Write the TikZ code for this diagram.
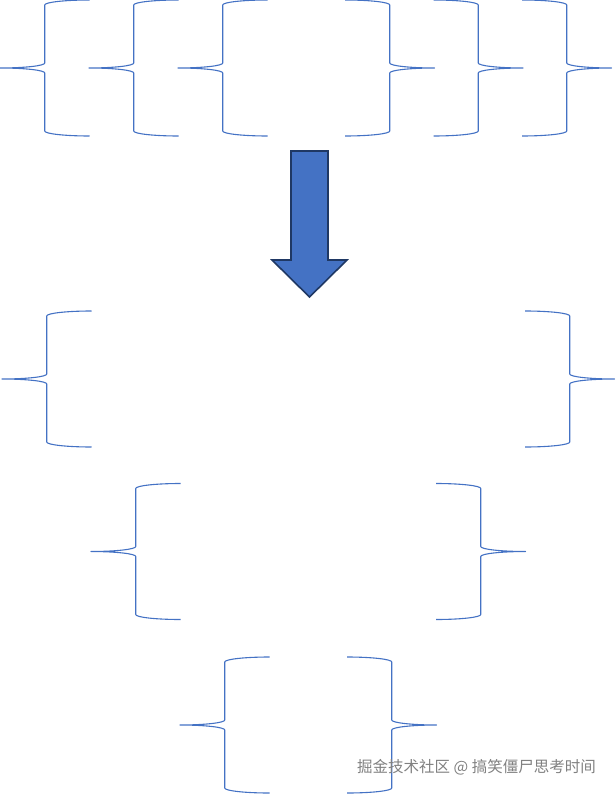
\documentclass[tikz,border=0pt]{standalone}
\usepackage{fontspec}
\newfontfamily\cjk{Noto Sans CJK SC}
\definecolor{braceblue}{HTML}{4472C4}
\definecolor{arrowfill}{HTML}{4472C4}
\definecolor{arrowline}{HTML}{1F3864}
\definecolor{markgray}{HTML}{808080}
\tikzset{
  bracestyle/.style={draw=braceblue, line width=1.1pt, line join=round},
  lbr/.pic={
    \path[bracestyle] (89.5,0)
      arc[start angle=270, end angle=180, x radius=44.75, y radius=5]
      -- (44.75,63)
      arc[start angle=0, end angle=90, x radius=44.75, y radius=5]
      arc[start angle=-90, end angle=0, x radius=44.75, y radius=5]
      -- (44.75,131)
      arc[start angle=180, end angle=90, x radius=44.75, y radius=5];
  },
  arrowstyle/.style={fill=arrowfill, draw=arrowline, line width=1.6pt, line join=miter},
  markstyle/.style={font=\cjk\fontsize{15.5}{18}\selectfont, text=markgray, inner sep=0pt, anchor=west}
}
\begin{document}
\begin{tikzpicture}[x=1pt, y=-1pt]
\useasboundingbox (0,0) rectangle (615,794);
% row 1
\pic at (0,0) {lbr};
\pic at (89,0) {lbr};
\pic at (178,0) {lbr};
\pic[xscale=-1] at (434.5,0) {lbr};
\pic[xscale=-1] at (523,0) {lbr};
\pic[xscale=-1] at (611.5,0) {lbr};
% arrow
\path[arrowstyle] (291,151) -- (328,151) -- (328,260) -- (347,260) -- (309.5,297)
  -- (272,260) -- (291,260) -- cycle;
% row 2
\pic at (2,311) {lbr};
\pic[xscale=-1] at (614.5,311) {lbr};
% row 3
\pic at (91,483.5) {lbr};
\pic[xscale=-1] at (525.5,483.5) {lbr};
% row 4
\pic at (180,657) {lbr};
\pic[xscale=-1] at (436.5,657) {lbr};
% watermark
\node[markstyle] (mark) at (357,767) {掘金技术社区 @ 搞笑僵尸思考时间};
\end{tikzpicture}
\end{document}
